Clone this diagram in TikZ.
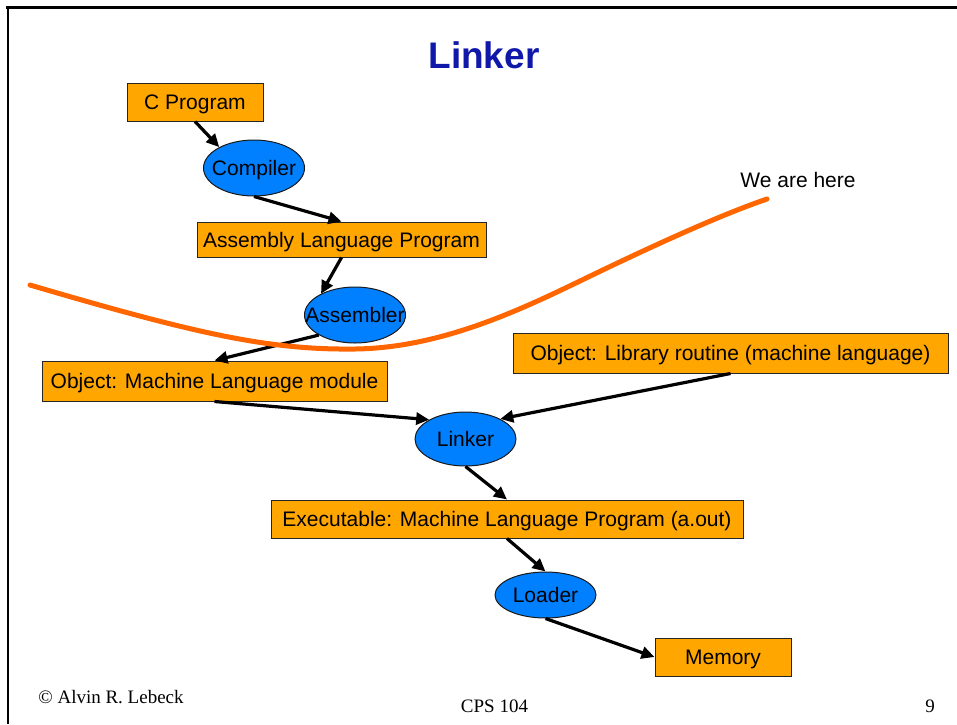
\documentclass[tikz,border=0pt]{standalone}
\usepackage{fontspec}
\setmainfont{Liberation Sans}
\newfontfamily\serifft{Liberation Serif}
\usetikzlibrary{shapes.geometric,arrows.meta}
\definecolor{boxorange}{RGB}{255,166,0}
\definecolor{ellblue}{RGB}{0,128,255}
\definecolor{curveorange}{RGB}{255,102,0}
\definecolor{titleblue}{RGB}{16,24,170}
\tikzset{
  databox/.style={draw=black!85, line width=1pt, fill=boxorange, inner sep=0pt, minimum height=#1, text depth=0pt, font=\fontsize{21}{25}\selectfont, text=black},
  databox/.default=38pt,
  proc/.style={ellipse, draw=black!90, line width=1pt, fill=ellblue, inner sep=0pt, label={[font=\fontsize{21}{25}\selectfont, text=black, text depth=0pt]center:#1}},
  flow/.style={line width=3.2pt, -{Triangle[length=13pt,width=12pt]}},
}
\begin{document}
\begin{tikzpicture}[x=1pt,y=-1pt]
\useasboundingbox (0,0) rectangle (957,724);
% frame
\draw[line width=2.5pt] (6,7.7) -- (957,7.7);
\draw[line width=2.2pt] (7.7,7.7) -- (7.7,724);
% title
\node[font=\bfseries\fontsize{37}{40}\selectfont, text=titleblue] (title) at (484,55) {Linker};
% nodes
\node[databox, minimum width=136pt] (cprog) at (195,102) {C Program};
\node[proc=Compiler, minimum width=101pt, minimum height=56pt] (comp) at (254,168) {};
\node[databox=35pt, minimum width=289pt] (alp) at (341.5,239.5) {Assembly Language Program};
\node[proc=Assembler, minimum width=101pt, minimum height=56pt] (asm) at (355,315) {};
\node[databox=40pt, minimum width=345pt] (obj) at (214.5,381) {Object: Machine Language module};
\node[databox=40pt, minimum width=435pt] (lib) at (730.5,353) {Object: Library routine (machine language)};
\node[proc=Linker, minimum width=101pt, minimum height=54pt] (link) at (465.5,439) {};
\node[databox, minimum width=472pt] (exe) at (507,519) {Executable: Machine Language Program (a.out)};
\node[proc=Loader, minimum width=101pt, minimum height=46pt] (load) at (545.5,595) {};
\node[databox, minimum width=136pt] (mem) at (723,657) {Memory};
% connectors
\draw[flow] (cprog.south) -- (comp.149);
\draw[flow] (comp.south) -- (alp.north);
\draw[flow] (alp.south) -- (asm.148);
\draw[flow] (asm.209) -- (obj.north);
\draw[flow] (obj.south) -- (link.152);
\draw[flow] (lib.south) -- (link.30);
\draw[flow] (link.south) -- (exe.north);
\draw[flow] (exe.south) -- (load.north);
\draw[flow] (load.south) -- (mem.west);
% we are here curve
\coordinate (cstart) at (30,285);
\coordinate (cmin) at (355,349);
\coordinate (cmid) at (580,281);
\coordinate (cend) at (767,199);
\draw[curveorange, line width=5pt, line cap=round]
  (cstart) .. controls (200,335) and (270,350) .. (cmin)
  .. controls (440,348) and (520,310) .. (cmid)
  .. controls (650,247) and (720,215) .. (cend);
\node[font=\fontsize{21}{25}\selectfont] (here) at (798,180) {We are here};
% footer
\node[font=\serifft\fontsize{19}{22}\selectfont] (copy) at (111,697) {© Alvin R. Lebeck};
\node[font=\serifft\fontsize{19}{22}\selectfont] (course) at (494.5,706) {CPS 104};
\node[font=\serifft\fontsize{19}{22}\selectfont] (page) at (930,706) {9};
\end{tikzpicture}
\end{document}
